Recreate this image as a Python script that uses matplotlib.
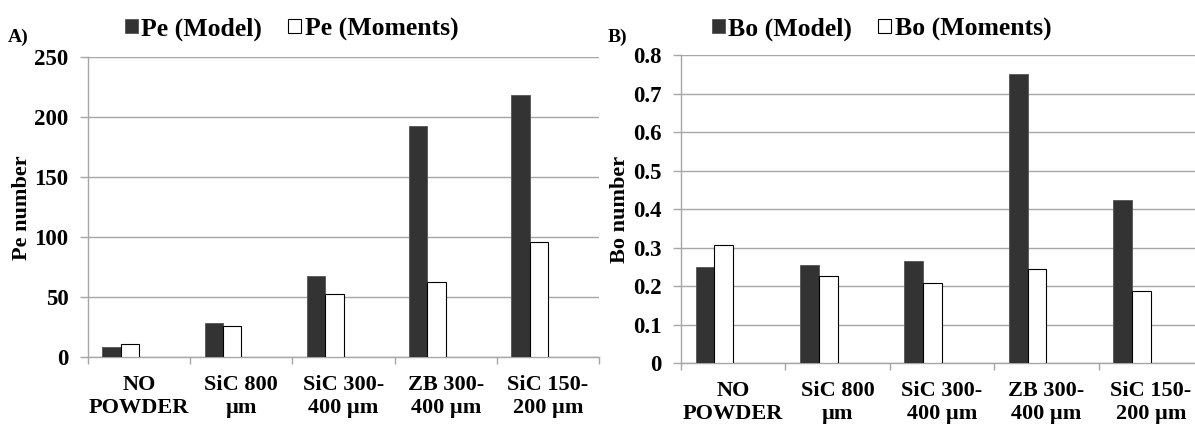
import numpy as np
import matplotlib
matplotlib.use("Agg")
import matplotlib.pyplot as plt

plt.rcParams['font.family'] = ['Liberation Serif', 'DejaVu Serif']
plt.rcParams['font.weight'] = 'bold'

# Data
categories = ["NO\nPOWDER", "SiC 800\nµm", "SiC 300-\n400 µm", "ZB 300-\n400 µm", "SiC 150-\n200 µm"]
pe_model = [8.8, 28.6, 67.5, 192.5, 218.8]
pe_moments = [11.1, 26.0, 53.0, 62.8, 95.8]
bo_model = [0.251, 0.256, 0.265, 0.751, 0.424]
bo_moments = [0.307, 0.227, 0.208, 0.246, 0.187]

W, H = 1195, 425
fig = plt.figure(figsize=(W / 100, H / 100), dpi=100)

def px_axes(left, right, top, bottom):
    return fig.add_axes([left / W, 1 - bottom / H, (right - left) / W, (bottom - top) / H])

ax1 = px_axes(88, 599, 57.3, 357.3)
ax2 = px_axes(681, 1203, 55.3, 363.3)

dark = "#333333"
grid_c = "#a6a6a6"

def draw(ax, model, moments, ymax, ystep, ylabel, lab_model, lab_mom, leg_x, ylab_x, fmt):
    x = np.arange(len(categories))
    ax.bar(x - 0.36, model, width=0.18, align='edge', color=dark,
           edgecolor="#555555", linewidth=0.6, label=lab_model, zorder=3)
    ax.bar(x - 0.18, moments, width=0.18, align='edge', color="white",
           edgecolor="black", linewidth=0.8, label=lab_mom, zorder=3)
    ax.set_xlim(-0.5, len(categories) - 0.5)
    ax.set_ylim(0, ymax)
    yt = np.arange(0, ymax + ystep / 2, ystep)
    ax.set_yticks(yt)
    ax.set_yticklabels([fmt(v) for v in yt], fontsize=16.5, fontweight='bold')
    ax.yaxis.grid(True, color=grid_c, linewidth=1.0, zorder=0)
    # category boundaries get the tick marks, names sit in between
    ax.set_xticks(np.arange(-0.5, len(categories), 1.0))
    ax.set_xticklabels([])
    ax.set_xticks(x, minor=True)
    ax.set_xticklabels(categories, minor=True, fontsize=16, fontweight='bold',
                       linespacing=1.2)
    ax.tick_params(axis='x', which='major', direction='out', length=5,
                   color=grid_c, width=1.0)
    ax.tick_params(axis='x', which='minor', length=0, pad=13)
    ax.tick_params(axis='y', direction='out', length=6, color=grid_c,
                   width=1.0, pad=8)
    for s in ['top', 'right']:
        ax.spines[s].set_visible(False)
    for s in ['left', 'bottom']:
        ax.spines[s].set_color(grid_c)
        ax.spines[s].set_linewidth(1.0)
    ax.set_ylabel(ylabel, fontsize=16, fontweight='bold', va='center')
    ax.yaxis.set_label_coords(ylab_x, 0.5)
    ax.set_axisbelow(True)
    ax.legend(loc='center', bbox_to_anchor=(leg_x / W, 1 - 29 / H),
              bbox_transform=fig.transFigure, ncol=2, frameon=False,
              prop={'weight': 'bold', 'size': 18.5},
              handlelength=0.5, handleheight=0.5, handletextpad=0.15,
              columnspacing=1.0, borderpad=0)

draw(ax1, pe_model, pe_moments, 250, 50, "Pe number", "Pe (Model)",
     "Pe (Moments)", 291.5, (22 - 88) / 511, lambda v: f"{v:g}")
draw(ax2, bo_model, bo_moments, 0.8, 0.1, "Bo number", "Bo (Model)",
     "Bo (Moments)", 881.5, (620 - 681) / 522, lambda v: f"{v:.1f}" if v != 0 else "0")

fig.text(8 / W, 1 - 37 / H, "A)", fontsize=14, fontweight='bold', va='center')
fig.text(608 / W, 1 - 37 / H, "B)", fontsize=14, fontweight='bold', va='center')

fig.savefig("out.png", dpi=100)
